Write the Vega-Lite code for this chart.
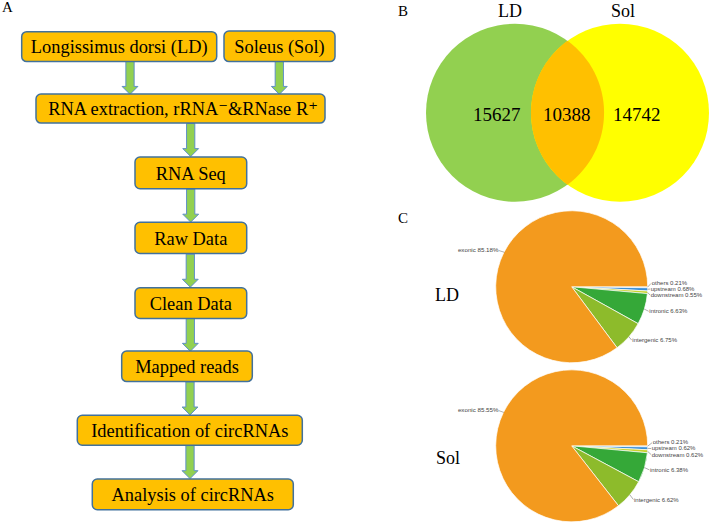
{
  "$schema": "https://vega.github.io/schema/vega-lite/v6.json",
  "width": 709,
  "height": 524,
  "autosize": {"type": "fit", "contains": "padding"},
  "padding": 0,
  "background": "white",
  "config": {"view": {"stroke": null}},
  "datasets": {
    "boxes": [
      {"label": "Longissimus dorsi (LD)", "x0": 21.7, "x1": 216.7, "y0": 31.7, "y1": 61.7, "cx": 119.2, "cy": 47.5},
      {"label": "Soleus (Sol)", "x0": 224, "x1": 335, "y0": 31, "y1": 61.7, "cx": 279.5, "cy": 47},
      {"label": "RNA extraction, rRNA⁻&RNase R⁺", "x0": 36, "x1": 325, "y0": 94.3, "y1": 123.3, "cx": 183, "cy": 109.5},
      {"label": "RNA Seq", "x0": 135, "x1": 246.7, "y0": 157.3, "y1": 189, "cx": 190.8, "cy": 174},
      {"label": "Raw Data", "x0": 135, "x1": 246.7, "y0": 222.7, "y1": 254, "cx": 190.8, "cy": 239},
      {"label": "Clean Data", "x0": 135, "x1": 246.7, "y0": 288.3, "y1": 319, "cx": 190.8, "cy": 304.5},
      {"label": "Mapped reads", "x0": 121.7, "x1": 252.3, "y0": 351.7, "y1": 382.3, "cx": 187, "cy": 367.8},
      {"label": "Identification of circRNAs", "x0": 77.3, "x1": 302.3, "y0": 416, "y1": 446, "cx": 189.8, "cy": 431.8},
      {"label": "Analysis of circRNAs", "x0": 92.3, "x1": 293.3, "y0": 480, "y1": 510.7, "cx": 192.8, "cy": 496.2}
    ],
    "arrows": [
      {"x": 130, "y": 78}, {"x": 279.3, "y": 78}, {"x": 190.7, "y": 140.3},
      {"x": 190.7, "y": 206}, {"x": 190.3, "y": 271.2}, {"x": 190.3, "y": 335.4},
      {"x": 190, "y": 399.2}, {"x": 190, "y": 463}
    ],
    "venn": [
      {"set": "LD", "x": 515, "y": 113},
      {"set": "Sol", "x": 620, "y": 113}
    ],
    "lens": [{"x": 567.5, "y": 113}],
    "counts": [
      {"n": "15627", "x": 496.7, "y": 115},
      {"n": "10388", "x": 566.7, "y": 115},
      {"n": "14742", "x": 636.7, "y": 115}
    ],
    "titles": [
      {"t": "LD", "x": 510, "y": 12},
      {"t": "Sol", "x": 623, "y": 12},
      {"t": "LD", "x": 447, "y": 297},
      {"t": "Sol", "x": 448, "y": 460}
    ],
    "letters": [
      {"t": "A", "x": 2, "y": 7.5},
      {"t": "B", "x": 398, "y": 11},
      {"t": "C", "x": 398, "y": 218.3}
    ],
    "pies": [
      {"pie": "LD", "region": "others", "pct": 0.21, "order": 1, "x": 571.7, "y": 287.3},
      {"pie": "LD", "region": "upstream", "pct": 0.68, "order": 2, "x": 571.7, "y": 287.3},
      {"pie": "LD", "region": "downstream", "pct": 0.55, "order": 3, "x": 571.7, "y": 287.3},
      {"pie": "LD", "region": "intronic", "pct": 6.63, "order": 4, "x": 571.7, "y": 287.3},
      {"pie": "LD", "region": "intergenic", "pct": 6.75, "order": 5, "x": 571.7, "y": 287.3},
      {"pie": "LD", "region": "exonic", "pct": 85.18, "order": 6, "x": 571.7, "y": 287.3},
      {"pie": "Sol", "region": "others", "pct": 0.21, "order": 1, "x": 571.7, "y": 446.7},
      {"pie": "Sol", "region": "upstream", "pct": 0.62, "order": 2, "x": 571.7, "y": 446.7},
      {"pie": "Sol", "region": "downstream", "pct": 0.62, "order": 3, "x": 571.7, "y": 446.7},
      {"pie": "Sol", "region": "intronic", "pct": 6.38, "order": 4, "x": 571.7, "y": 446.7},
      {"pie": "Sol", "region": "intergenic", "pct": 6.62, "order": 5, "x": 571.7, "y": 446.7},
      {"pie": "Sol", "region": "exonic", "pct": 85.55, "order": 6, "x": 571.7, "y": 446.7}
    ],
    "pieLabels": [
      {"t": "exonic 85.18%", "side": "left", "x": 498.5, "y": 250.5},
      {"t": "others 0.21%", "side": "right", "x": 651.7, "y": 283.4},
      {"t": "upstream 0.68%", "side": "right", "x": 650.7, "y": 289.5},
      {"t": "downstream 0.55%", "side": "right", "x": 650.7, "y": 295.6},
      {"t": "intronic 6.63%", "side": "right", "x": 649.3, "y": 311.8},
      {"t": "intergenic 6.75%", "side": "right", "x": 632.3, "y": 341},
      {"t": "exonic 85.55%", "side": "left", "x": 498.5, "y": 411},
      {"t": "others 0.21%", "side": "right", "x": 652.7, "y": 443.2},
      {"t": "upstream 0.62%", "side": "right", "x": 651.7, "y": 449.3},
      {"t": "downstream 0.62%", "side": "right", "x": 651.7, "y": 455.4},
      {"t": "intronic 6.38%", "side": "right", "x": 650, "y": 470.7},
      {"t": "intergenic 6.62%", "side": "right", "x": 634, "y": 500.7}
    ],
    "leaders": [
      {"x": 498.8, "y": 251, "x2": 504.5, "y2": 252.8},
      {"x": 647.7, "y": 287.6, "x2": 651, "y2": 284},
      {"x": 647.6, "y": 289.8, "x2": 650.2, "y2": 289.6},
      {"x": 647.5, "y": 292.9, "x2": 650.2, "y2": 295.7},
      {"x": 644.3, "y": 309.7, "x2": 648.7, "y2": 311.9},
      {"x": 628.9, "y": 337.4, "x2": 631.7, "y2": 340.8},
      {"x": 498.8, "y": 411.4, "x2": 503.8, "y2": 413.2},
      {"x": 647.7, "y": 447, "x2": 652, "y2": 443.6},
      {"x": 647.6, "y": 449.2, "x2": 651.2, "y2": 449.4},
      {"x": 647.5, "y": 452.1, "x2": 651.2, "y2": 455.5},
      {"x": 644.5, "y": 468.5, "x2": 649.4, "y2": 470.8},
      {"x": 629.8, "y": 495.7, "x2": 633.4, "y2": 500.5}
    ]
  },
  "layer": [
    {
      "data": {"name": "arrows"},
      "mark": {"type": "point", "shape": "M -0.25 -1 L 0.25 -1 L 0.25 0.52 L 0.48 0.52 L 0 1 L -0.48 0.52 L -0.25 0.52 Z", "filled": true, "fill": "#92D050", "stroke": "#5E8FC8", "strokeWidth": 1, "opacity": 1, "size": 1089},
      "encoding": {
        "x": {"field": "x", "type": "quantitative", "scale": {"domain": [0, 709], "nice": false, "zero": false}, "axis": null, "stack": null},
        "y": {"field": "y", "type": "quantitative", "scale": {"domain": [0, 524], "nice": false, "zero": false, "reverse": true}, "axis": null, "stack": null}
      }
    },
    {
      "data": {"name": "boxes"},
      "mark": {"type": "rect", "cornerRadius": 5, "fill": "#FFC000", "stroke": "#41719C", "strokeWidth": 1.5},
      "encoding": {
        "x": {"field": "x0", "type": "quantitative", "scale": {"domain": [0, 709], "nice": false, "zero": false}, "axis": null},
        "x2": {"field": "x1"},
        "y": {"field": "y0", "type": "quantitative", "scale": {"domain": [0, 524], "nice": false, "zero": false, "reverse": true}, "axis": null},
        "y2": {"field": "y1"}
      }
    },
    {
      "data": {"name": "boxes"},
      "mark": {"type": "text", "font": "'Liberation Serif', 'Times New Roman', 'DejaVu Serif', serif", "fontSize": 18.4, "align": "center", "baseline": "middle", "color": "#000000"},
      "encoding": {
        "x": {"field": "cx", "type": "quantitative", "scale": {"domain": [0, 709], "nice": false, "zero": false}, "axis": null, "stack": null},
        "y": {"field": "cy", "type": "quantitative", "scale": {"domain": [0, 524], "nice": false, "zero": false, "reverse": true}, "axis": null, "stack": null},
        "text": {"field": "label"}
      }
    },
    {
      "data": {"name": "venn"},
      "transform": [{"filter": "datum.set == 'LD'"}],
      "mark": {"type": "point", "shape": "circle", "filled": true, "fill": "#92D050", "opacity": 1, "size": 31684, "strokeWidth": 0},
      "encoding": {
        "x": {"field": "x", "type": "quantitative", "scale": {"domain": [0, 709], "nice": false, "zero": false}, "axis": null, "stack": null},
        "y": {"field": "y", "type": "quantitative", "scale": {"domain": [0, 524], "nice": false, "zero": false, "reverse": true}, "axis": null, "stack": null}
      }
    },
    {
      "data": {"name": "venn"},
      "transform": [{"filter": "datum.set == 'Sol'"}],
      "mark": {"type": "point", "shape": "circle", "filled": true, "fill": "#FFFF00", "opacity": 1, "size": 31684, "strokeWidth": 0},
      "encoding": {
        "x": {"field": "x", "type": "quantitative", "scale": {"domain": [0, 709], "nice": false, "zero": false}, "axis": null, "stack": null},
        "y": {"field": "y", "type": "quantitative", "scale": {"domain": [0, 524], "nice": false, "zero": false, "reverse": true}, "axis": null, "stack": null}
      }
    },
    {
      "data": {"name": "lens"},
      "mark": {"type": "point", "shape": "M 0 -0.808 A 1 1 0 0 1 0 0.808 A 1 1 0 0 1 0 -0.808 Z", "filled": true, "fill": "#FFC000", "opacity": 1, "size": 31684, "strokeWidth": 0},
      "encoding": {
        "x": {"field": "x", "type": "quantitative", "scale": {"domain": [0, 709], "nice": false, "zero": false}, "axis": null, "stack": null},
        "y": {"field": "y", "type": "quantitative", "scale": {"domain": [0, 524], "nice": false, "zero": false, "reverse": true}, "axis": null, "stack": null}
      }
    },
    {
      "data": {"name": "counts"},
      "mark": {"type": "text", "font": "'Liberation Serif', 'Times New Roman', 'DejaVu Serif', serif", "fontSize": 19, "align": "center", "baseline": "middle", "color": "#000000"},
      "encoding": {
        "x": {"field": "x", "type": "quantitative", "scale": {"domain": [0, 709], "nice": false, "zero": false}, "axis": null, "stack": null},
        "y": {"field": "y", "type": "quantitative", "scale": {"domain": [0, 524], "nice": false, "zero": false, "reverse": true}, "axis": null, "stack": null},
        "text": {"field": "n"}
      }
    },
    {
      "data": {"name": "titles"},
      "mark": {"type": "text", "font": "'Liberation Serif', 'Times New Roman', 'DejaVu Serif', serif", "fontSize": 18, "align": "center", "baseline": "middle", "color": "#000000"},
      "encoding": {
        "x": {"field": "x", "type": "quantitative", "scale": {"domain": [0, 709], "nice": false, "zero": false}, "axis": null, "stack": null},
        "y": {"field": "y", "type": "quantitative", "scale": {"domain": [0, 524], "nice": false, "zero": false, "reverse": true}, "axis": null, "stack": null},
        "text": {"field": "t"}
      }
    },
    {
      "data": {"name": "letters"},
      "mark": {"type": "text", "font": "'Liberation Serif', 'Times New Roman', 'DejaVu Serif', serif", "fontSize": 15, "align": "left", "baseline": "middle", "color": "#000000"},
      "encoding": {
        "x": {"field": "x", "type": "quantitative", "scale": {"domain": [0, 709], "nice": false, "zero": false}, "axis": null, "stack": null},
        "y": {"field": "y", "type": "quantitative", "scale": {"domain": [0, 524], "nice": false, "zero": false, "reverse": true}, "axis": null, "stack": null},
        "text": {"field": "t"}
      }
    },
    {
      "data": {"name": "pies"},
      "transform": [{"stack": "pct", "groupby": ["pie"], "sort": [{"field": "order", "order": "ascending"}], "as": ["t0", "t1"]}],
      "mark": {"type": "arc", "outerRadius": 76, "stroke": "#FFFFFF", "strokeWidth": 0.7},
      "encoding": {
        "x": {"field": "x", "type": "quantitative", "scale": {"domain": [0, 709], "nice": false, "zero": false}, "axis": null, "stack": null},
        "y": {"field": "y", "type": "quantitative", "scale": {"domain": [0, 524], "nice": false, "zero": false, "reverse": true}, "axis": null, "stack": null},
        "theta": {"field": "t0", "type": "quantitative", "scale": {"domain": [0, 100], "range": [1.5708, 7.854]}, "stack": null},
        "theta2": {"field": "t1"},
        "color": {"field": "region", "type": "nominal", "legend": null, "scale": {"domain": ["others", "upstream", "downstream", "intronic", "intergenic", "exonic"], "range": ["#DCDCDC", "#3A8FD6", "#C8D22E", "#35A838", "#8DBB2B", "#F39A1E"]}}
      }
    },
    {
      "data": {"name": "leaders"},
      "mark": {"type": "rule", "color": "#777777", "strokeWidth": 0.6},
      "encoding": {
        "x": {"field": "x", "type": "quantitative", "scale": {"domain": [0, 709], "nice": false, "zero": false}, "axis": null},
        "y": {"field": "y", "type": "quantitative", "scale": {"domain": [0, 524], "nice": false, "zero": false, "reverse": true}, "axis": null},
        "x2": {"field": "x2"},
        "y2": {"field": "y2"}
      }
    },
    {
      "data": {"name": "pieLabels"},
      "transform": [{"filter": "datum.side == 'right'"}],
      "mark": {"type": "text", "font": "'Liberation Sans', Arial, sans-serif", "fontSize": 6, "align": "left", "baseline": "middle", "color": "#444444"},
      "encoding": {
        "x": {"field": "x", "type": "quantitative", "scale": {"domain": [0, 709], "nice": false, "zero": false}, "axis": null, "stack": null},
        "y": {"field": "y", "type": "quantitative", "scale": {"domain": [0, 524], "nice": false, "zero": false, "reverse": true}, "axis": null, "stack": null},
        "text": {"field": "t"}
      }
    },
    {
      "data": {"name": "pieLabels"},
      "transform": [{"filter": "datum.side == 'left'"}],
      "mark": {"type": "text", "font": "'Liberation Sans', Arial, sans-serif", "fontSize": 6.2, "align": "right", "baseline": "middle", "color": "#444444"},
      "encoding": {
        "x": {"field": "x", "type": "quantitative", "scale": {"domain": [0, 709], "nice": false, "zero": false}, "axis": null, "stack": null},
        "y": {"field": "y", "type": "quantitative", "scale": {"domain": [0, 524], "nice": false, "zero": false, "reverse": true}, "axis": null, "stack": null},
        "text": {"field": "t"}
      }
    }
  ]
}
